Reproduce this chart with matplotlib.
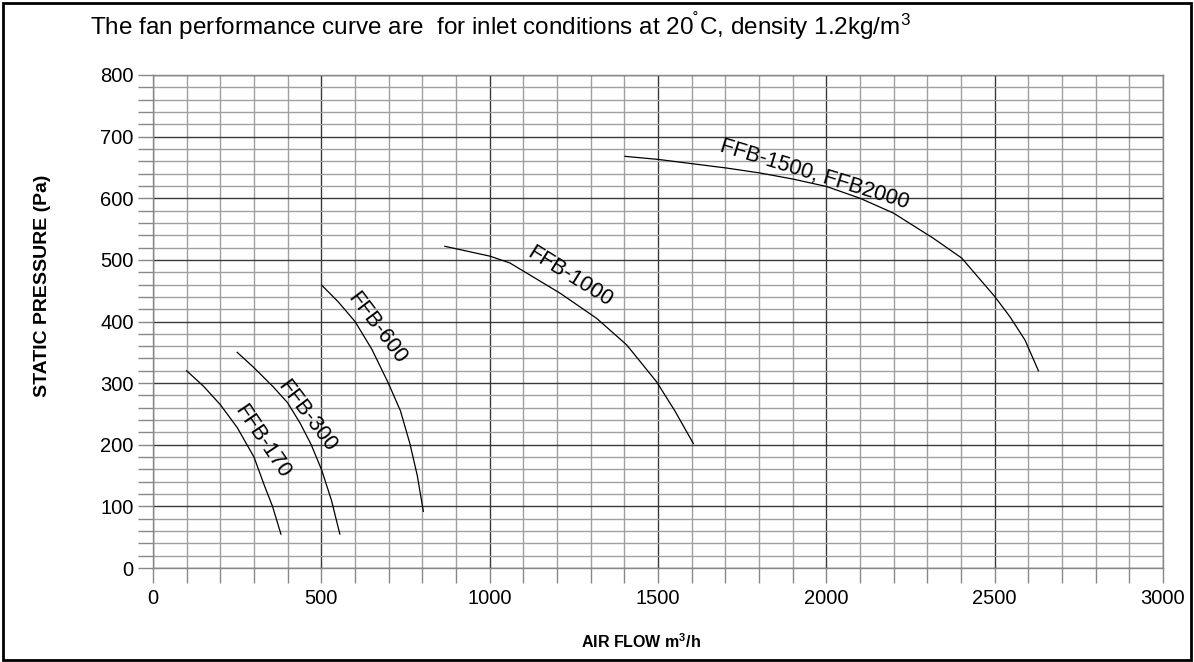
"""
Fan performance curves (static pressure vs air flow).
"""
import matplotlib
matplotlib.use("Agg")
import matplotlib.pyplot as plt
from matplotlib.patches import Rectangle
from matplotlib.ticker import MultipleLocator

plt.rcParams['font.family'] = ['Liberation Sans', 'DejaVu Sans']
plt.rcParams['mathtext.default'] = 'regular'

# curve data (air flow m3/h, static pressure Pa)
ffb170_flow = [100, 150, 200, 250, 300, 330, 355, 380]
ffb170_pres = [320, 295, 265, 228, 180, 135, 100, 55]

ffb300_flow = [250, 300, 357, 400, 437, 470, 501, 530, 555]
ffb300_pres = [350, 325, 294, 268, 235, 200, 159, 110, 55]

ffb600_flow = [501, 550, 600, 650, 699, 735, 763, 785, 803]
ffb600_pres = [459, 432, 400, 355, 300, 255, 202, 150, 92]

ffb1000_flow = [867, 1001, 1060, 1209, 1318, 1407, 1496, 1550, 1605]
ffb1000_pres = [522, 506, 495, 446, 405, 362, 302, 255, 202]

ffb1500_flow = [1402, 1501, 1704, 1803, 1902, 2001, 2100, 2199, 2318, 2402, 2501, 2545, 2590, 2630]
ffb1500_pres = [668, 663, 649, 641, 631, 619, 600, 576, 535, 503, 440, 408, 370, 320]

curve_flows = [ffb170_flow, ffb300_flow, ffb600_flow, ffb1000_flow, ffb1500_flow]
curve_pres = [ffb170_pres, ffb300_pres, ffb600_pres, ffb1000_pres, ffb1500_pres]

labels = ['FFB-170', 'FFB-300', 'FFB-600', 'FFB-1000', 'FFB-1500, FFB2000']
label_x = [323, 456, 664, 1238, 1966]
label_y = [205, 246, 389, 473, 638]
label_rot = [-56, -53, -53, -32, -17]

fig = plt.figure(figsize=(11.94, 6.62), dpi=100)
ax = fig.add_axes([153 / 1194, 94 / 662, 1010 / 1194, 493 / 662])

for flow, pres in zip(curve_flows, curve_pres):
    ax.plot(flow, pres, color='black', linewidth=0.9)

for text, x, y, rot in zip(labels, label_x, label_y, label_rot):
    ax.text(x, y, text, rotation=rot, rotation_mode='anchor',
            ha='center', va='center', fontsize=15.5)

ax.set_xlim(0, 3000)
ax.set_ylim(0, 800)
ax.xaxis.set_major_locator(MultipleLocator(500))
ax.xaxis.set_minor_locator(MultipleLocator(100))
ax.yaxis.set_major_locator(MultipleLocator(100))
ax.yaxis.set_minor_locator(MultipleLocator(20))

ax.grid(True, which='minor', color='#a0a0a0', linewidth=1)
ax.grid(True, which='major', color='#3a3a3a', linewidth=1)
ax.set_axisbelow(True)
ax.tick_params(which='both', direction='out', length=11, width=1, colors='#888888',
               labelcolor='black', labelsize=14.5)
ax.tick_params(axis='x', which='both', pad=4)
ax.tick_params(axis='y', which='both', pad=3)
for side in ax.spines.values():
    side.set_color('#888888')
    side.set_linewidth(1)

ax.set_ylabel('STATIC PRESSURE (Pa)', fontsize=14, fontweight='bold')
ax.yaxis.set_label_coords(-0.101, 0.572)
ax.set_xlabel('AIR FLOW m$^3$/h', fontsize=11.5, fontweight='bold')
ax.xaxis.set_label_coords(0.483, -0.13)

fig.text(90 / 1194, 1 - 26 / 662, 'The fan performance curve are  for inlet conditions at 20$^{\u02da}$C, density 1.2kg/m$^3$',
         fontsize=17.5, ha='left', va='center')

fig.add_artist(Rectangle((3 / 1194, 2 / 662), 1188 / 1194, 657 / 662, transform=fig.transFigure,
                         fill=False, edgecolor='black', linewidth=2))

fig.savefig('out.png', dpi=100)
